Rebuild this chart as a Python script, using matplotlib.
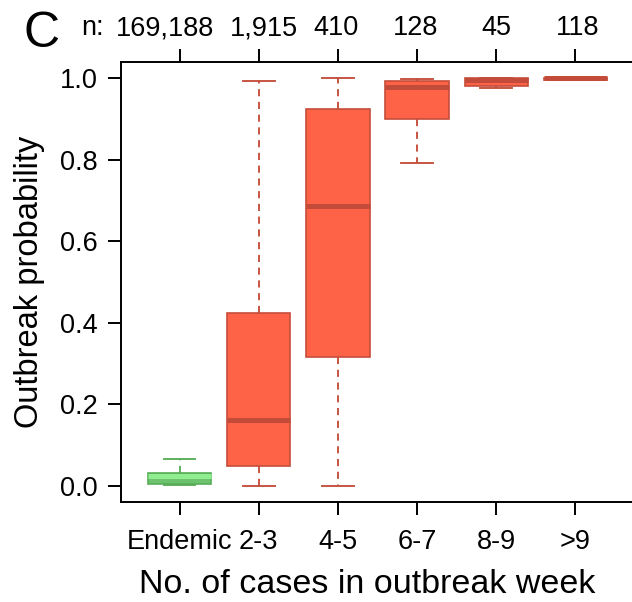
import matplotlib
matplotlib.use("Agg")
import matplotlib.pyplot as plt
import matplotlib.transforms as mtransforms

# --- data ---
CATEGORIES = ["Endemic", "2-3", "4-5", "6-7", "8-9", ">9"]
N_LABELS = ["169,188", "1,915", "410", "128", "45", "118"]
WHISLO = [0.002, 0.0, 0.0, 0.792, 0.975, 0.996]
Q1 = [0.005, 0.049, 0.316, 0.900, 0.980, 0.997]
MEDIAN = [0.024, 0.162, 0.686, 0.979, 0.995, 1.0]
Q3 = [0.030, 0.424, 0.924, 0.993, 1.0, 1.0]
WHISHI = [0.066, 0.993, 1.0, 0.998, 1.0, 1.0]

# --- style ---
RED_FILL, RED_EDGE, RED_MED = "#FF6347", "#C54E3B", "#C24B3A"
GRN_FILL, GRN_EDGE, GRN_MED = "#6DC26D", "#58AD58", "#90EE90"
N_OFFSETS = [-0.18, 0.07, -0.02, -0.02, 0.0, 0.03]  # nudge n labels off tick
FS = 19.5

plt.rcParams.update({
    "font.family": ["Liberation Sans", "DejaVu Sans"],
    "font.size": FS,
    "axes.linewidth": 1.4,
})

fig = plt.figure(figsize=(6.32, 6.02), dpi=100)
ax = fig.add_axes([121 / 632, 100 / 602, 513 / 632, 440 / 602])

stats = [
    dict(whislo=lo, q1=a, med=m, q3=b, whishi=hi, label=c)
    for c, lo, a, m, b, hi in zip(CATEGORIES, WHISLO, Q1, MEDIAN, Q3, WHISHI)
]
pos = list(range(1, len(CATEGORIES) + 1))
bp = ax.bxp(stats, positions=pos, widths=0.8, capwidths=0.4, patch_artist=True,
            showfliers=False)

for i, box in enumerate(bp["boxes"]):
    green = i == 0
    fill, edge, med = (GRN_FILL, GRN_EDGE, GRN_MED) if green else (RED_FILL, RED_EDGE, RED_MED)
    box.set_facecolor(fill)
    box.set_edgecolor(edge)
    box.set_linewidth(1.2)
    bp["medians"][i].set_color(med)
    bp["medians"][i].set_linewidth(3.6)
    bp["medians"][i].set_solid_capstyle("butt")
    for w in bp["whiskers"][2 * i:2 * i + 2]:
        w.set_color(edge)
        w.set_linewidth(1.35)
        w.set_linestyle((0, (3.8, 3.0)))
    for c in bp["caps"][2 * i:2 * i + 2]:
        c.set_color(edge)
        c.set_linewidth(1.35)

ax.set_xlim(0.26, 6.74)
ax.set_ylim(-0.04, 1.04)
ax.set_yticks([0.0, 0.2, 0.4, 0.6, 0.8, 1.0])
ax.set_yticklabels([f"{v:.1f}" for v in [0.0, 0.2, 0.4, 0.6, 0.8, 1.0]])
ax.set_xticks(pos)
ax.set_xticklabels(CATEGORIES)
ax.spines["right"].set_visible(False)
ax.tick_params(axis="both", direction="out", length=9.5, width=1.4, pad=7)
ax.tick_params(axis="x", pad=10)
ax.tick_params(top=True, labeltop=False)

# n labels above the top ticks
trans = mtransforms.blended_transform_factory(ax.transData, ax.transAxes)
for p, lab, off in zip(pos, N_LABELS, N_OFFSETS):
    ax.text(p + off, 1.061, lab, transform=trans, ha="center", va="baseline",
            fontsize=FS)
fig.text(81 / 632, 1 - 35 / 602, "n:", ha="left", va="baseline", fontsize=FS)

fig.text(24 / 632, 1 - 47 / 602, "C", ha="left", va="baseline", fontsize=36)
fig.text(367 / 632, 9 / 602, "No. of cases in outbreak week", ha="center",
         va="baseline", fontsize=24.5)
fig.text(30 / 632, 1 - 282 / 602, "Outbreak probability", rotation=90,
         ha="center", va="center", fontsize=23.5)

fig.savefig("out.png", dpi=100)
